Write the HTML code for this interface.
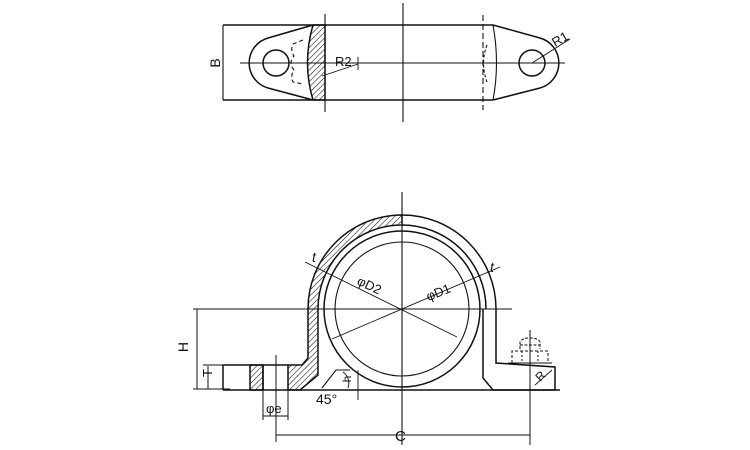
<!DOCTYPE html>
<html><head><meta charset="utf-8"><style>
html,body{margin:0;padding:0;background:#fff;}
svg{display:block;}
text{font-family:"Liberation Sans",sans-serif;fill:#111;}
</style></head><body>
<svg width="750" height="450" viewBox="0 0 750 450" xmlns="http://www.w3.org/2000/svg">
<defs>
<pattern id="h" patternUnits="userSpaceOnUse" width="4" height="4" patternTransform="rotate(45)">
<line x1="0" y1="0" x2="0" y2="4" stroke="#111" stroke-width="1.1"/>
</pattern>
</defs>
<g fill="none" stroke="#111" stroke-width="1.5">
<!-- TOP VIEW -->
<line x1="223" y1="25" x2="493" y2="25"/>
<line x1="223" y1="100" x2="493" y2="100"/>
<line x1="223" y1="25" x2="223" y2="100" stroke-width="1.1"/>
<path d="M313,25 L268,38 A26,26 0 0 0 268,88 L313,100"/>
<circle cx="276" cy="63" r="13"/>
<path d="M313,25 L325,25 L325,100 L313,100 Q302,63 313,25 Z" fill="url(#h)"/>
<path d="M303,40 L293,44 Q290,50 294,56 Q288,63 294,70 Q290,76 293,82 L303,84" stroke-dasharray="4,3" stroke-width="1.1"/>
<line x1="325" y1="14" x2="325" y2="112" stroke-width="1.1"/>
<line x1="403" y1="3" x2="403" y2="122" stroke-width="1.1"/>
<line x1="483" y1="15" x2="483" y2="110" stroke-dasharray="6,3" stroke-width="1.1"/>
<path d="M493,25 Q500,63 493,100" stroke-width="1.1"/>
<path d="M487,45 Q480,63 487,82" stroke-dasharray="3,2" stroke-width="1.1"/>
<path d="M493,25 L540,38 A26,26 0 0 1 540,88 L493,100"/>
<circle cx="532" cy="63" r="13"/>
<line x1="240" y1="63" x2="565" y2="63" stroke-width="0.9"/>
<line x1="322" y1="76" x2="358" y2="64" stroke-width="0.9"/>
<line x1="358" y1="57" x2="358" y2="70" stroke-width="0.9"/>
<line x1="532" y1="63" x2="570" y2="39" stroke-width="0.9"/>

<!-- FRONT VIEW -->
<path d="M402,215 A94,94 0 0 0 308,309 L308,358 L302,365 L288,365 L288,390 L300,390 L318,375 L318,309 A84,84 0 0 1 402,225 Z" fill="url(#h)"/>
<rect x="250" y="365" width="13" height="25" fill="url(#h)"/>
<path d="M402,215 A94,94 0 0 1 496,309 L496,363 L555,367 L555,390 L493,390 L483,378 L483,309"/>
<path d="M402,225 A84,84 0 0 1 486,309" />
<path d="M223,365 L288,365 M223,365 L223,390 M223,390 L560,390"/>
<line x1="263" y1="365" x2="263" y2="390"/>
<circle cx="402" cy="309" r="78"/>
<circle cx="402" cy="309" r="67" stroke-width="1.1"/>
<path d="M322,388 L336,370 L350,370" stroke-width="1.1"/>
<path d="M343,372 A14,14 0 0 1 348,388" stroke-width="0.9"/>
<line x1="358" y1="370" x2="358" y2="400" stroke-width="0.9"/>
<line x1="402" y1="192" x2="402" y2="445" stroke-width="1.1"/>
<line x1="193" y1="309" x2="512" y2="309" stroke-width="0.9"/>
<line x1="305" y1="262" x2="457" y2="337" stroke-width="0.9"/>
<line x1="500" y1="267" x2="332" y2="339" stroke-width="0.9"/>
<g stroke-width="1">
<path d="M520,349 L520,342 Q522,338 530,338 Q538,338 540,342 L540,349" stroke-dasharray="3,1.5"/>
<line x1="520" y1="345" x2="540" y2="345" stroke-dasharray="3,1.5"/>
<path d="M512,363 L512,351 L548,351 L548,363" stroke-dasharray="3,2"/>
<line x1="522" y1="351" x2="522" y2="363" stroke-dasharray="2,2"/>
<line x1="538" y1="351" x2="538" y2="363" stroke-dasharray="2,2"/>
<line x1="508" y1="363" x2="552" y2="363"/>
</g>
<line x1="530" y1="330" x2="530" y2="445" stroke-width="1"/>
<line x1="535" y1="385" x2="552" y2="370" stroke-width="0.9"/>
<line x1="197" y1="309" x2="197" y2="389" stroke-width="1"/>
<line x1="193" y1="389" x2="230" y2="389" stroke-width="1"/>
<line x1="208" y1="366" x2="208" y2="389" stroke-width="1"/>
<line x1="203" y1="365" x2="223" y2="365" stroke-width="1"/>
<line x1="263" y1="390" x2="263" y2="420" stroke-width="1"/>
<line x1="288" y1="390" x2="288" y2="420" stroke-width="1"/>
<line x1="263" y1="416" x2="288" y2="416" stroke-width="1"/>
<line x1="276" y1="355" x2="276" y2="442" stroke-width="1"/>
<line x1="276" y1="435" x2="530" y2="435" stroke-width="1"/>
</g>
<g font-size="14">
<text x="215" y="68" transform="rotate(-90 215 63)" text-anchor="middle">B</text>
<text x="335" y="66" font-size="13">R2</text>
<text x="553" y="45" font-size="13" transform="rotate(-30 558 42)">R1</text>
<text x="357" y="290" font-size="13" transform="rotate(25 370 285)">φD2</text>
<text x="425" y="296" font-size="13" transform="rotate(-22 440 290)">φD1</text>
<text x="312" y="262" font-size="14" font-style="italic">t</text>
<text x="490" y="272" font-size="14" font-style="italic">t</text>
<text x="191" y="350" transform="rotate(-90 188 350)" text-anchor="middle">H</text>
<text x="217" y="378" transform="rotate(-90 212 378)" text-anchor="middle" font-size="13">T</text>
<text x="266" y="413" font-size="13">φe</text>
<text x="316" y="404" font-size="14">45°</text>
<text x="355" y="383" font-size="12" transform="rotate(-90 351 383)" text-anchor="middle">h</text>
<text x="395" y="441" font-size="15">C</text>
<text x="537" y="380" font-size="12" transform="rotate(-45 541 377)">R</text>
</g>
</svg>
</body></html>
